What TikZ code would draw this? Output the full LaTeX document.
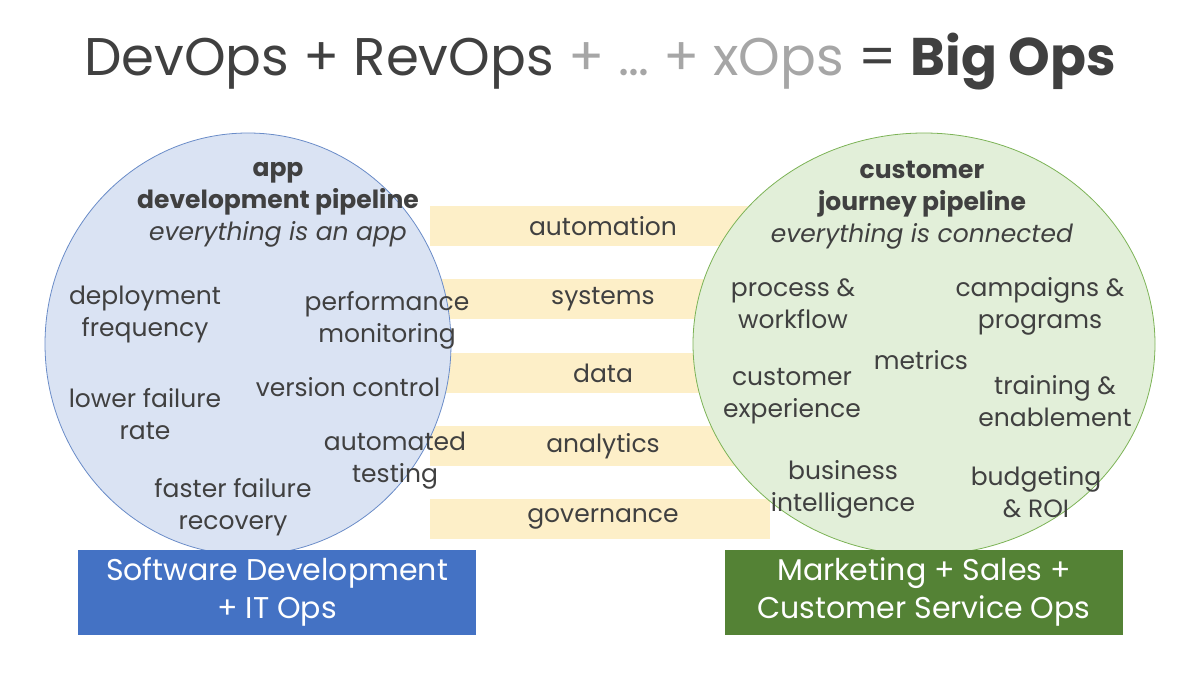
\documentclass[tikz,border=0pt]{standalone}
\usepackage{fontspec}
\setmainfont{Poppins}
\usetikzlibrary{shapes.geometric}
\definecolor{txt}{HTML}{404040}
\definecolor{band}{HTML}{FDEFC8}
\definecolor{bluefill}{HTML}{DAE3F3}
\definecolor{blueline}{HTML}{6A8CC8}
\definecolor{greenfill}{HTML}{E2EFD9}
\definecolor{greenline}{HTML}{7CB356}
\definecolor{bluebox}{HTML}{4472C4}
\definecolor{greenbox}{HTML}{548235}
\begin{document}
\begin{tikzpicture}[x=0.5pt,y=-0.5pt, font=\fontsize{12.5}{16}\selectfont,
  item/.style = {text=txt, align=center},
  bar/.style = {fill=band, draw=none, minimum width=340*0.5pt, minimum height=40*0.5pt},
  lbl/.style = {text=txt, font=\fontsize{12.5}{16}\selectfont},
  box/.style = {draw=none, minimum width=398*0.5pt, minimum height=85*0.5pt, text=white, align=center, font=\fontsize{15}{19}\selectfont}]
\useasboundingbox (0,0) rectangle (1200,690);
% title
\node[text=txt, font=\fontsize{26.5}{30}\selectfont] (title) at (600,62)
  {DevOps + RevOps \textcolor{gray!70}{+ … + xOps} = \textbf{Big Ops}};
% bands
\foreach \y/\n in {226/b1, 299/b2, 373/b3, 446/b4, 519/b5}
  \node[bar] (\n) at (600,\y) {};
% circles
\node[ellipse, draw=blueline, fill=bluefill, minimum width=406*0.5pt, minimum height=422*0.5pt] (left) at (248,344) {};
\node[ellipse, draw=greenline, fill=greenfill, minimum width=462*0.5pt, minimum height=422*0.5pt] (right) at (924,344) {};
\foreach \y/\t/\n in {226/automation/l1, 299/systems/l2, 373/data/l3, 446/analytics/l4, 519/governance/l5}
  \node[lbl] (\n) at (603,\y) {\t};
% left circle text
\node[item] (lhead) at (278,205) {\textbf{app}\\\textbf{development pipeline}\\\textit{everything is an app}};
\node[item] (l_a) at (145,314) {deployment\\frequency};
\node[item] (l_b) at (387,320) {performance\\monitoring};
\node[item] (l_c) at (145,414) {lower failure\\rate};
\node[item] (l_d) at (348,387) {version control};
\node[item] (l_e) at (395,461) {automated\\testing};
\node[item] (l_f) at (233,507) {faster failure\\recovery};
% right circle text
\node[item] (rhead) at (922,205) {\textbf{customer}\\\textbf{journey pipeline}\\\textit{everything is connected}};
\node[item] (r_a) at (793,304) {process \&\\workflow};
\node[item] (r_b) at (1040,306) {campaigns \&\\programs};
\node[item] (r_c) at (921,360) {metrics};
\node[item] (r_d) at (792,396) {customer\\experience};
\node[item] (r_e) at (1055,401) {training \&\\enablement};
\node[item] (r_f) at (843,489) {business\\intelligence};
\node[item] (r_g) at (1036,492) {budgeting\\\& ROI};
% boxes
\node[box, fill=bluebox] (lbox) at (277,592) {Software Development\\+ IT Ops};
\node[box, fill=greenbox] (rbox) at (924,592) {Marketing + Sales +\\Customer Service Ops};
\end{tikzpicture}
\end{document}
